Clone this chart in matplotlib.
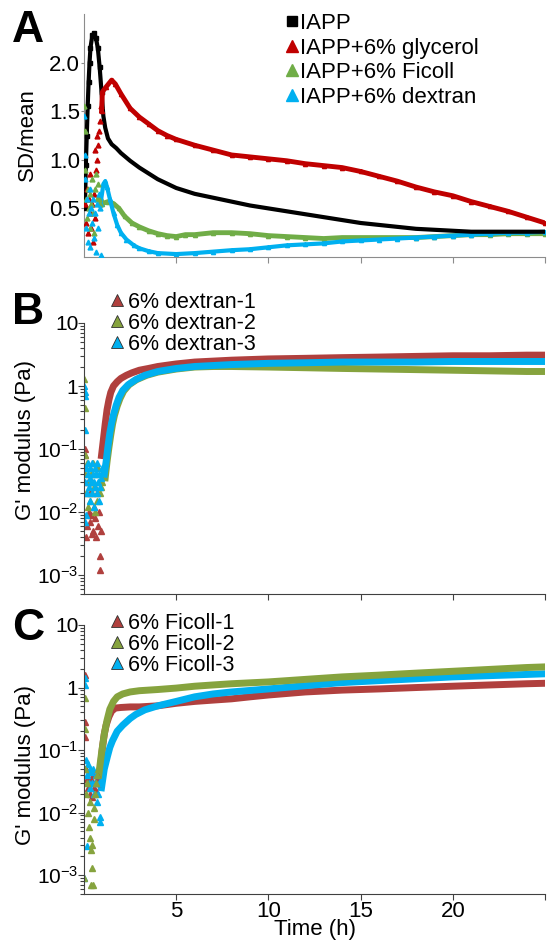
import matplotlib
matplotlib.use("Agg")
import matplotlib.pyplot as plt
from matplotlib.lines import Line2D
import numpy as np

plt.rcParams['font.family'] = ['Liberation Sans', 'DejaVu Sans']
plt.rcParams['mathtext.default'] = 'regular'

# ---------------- panel A : SD/mean ----------------
t_iapp = [0.05, 0.1, 0.15, 0.2, 0.25, 0.3, 0.35, 0.45, 0.55, 0.65, 0.75, 0.85, 0.95, 1.05,
          1.15, 1.3, 1.5, 1.75, 2, 2.5, 3, 3.5, 4, 5, 6, 7, 8, 9, 10, 11, 12, 13, 14, 15,
          16, 17, 18, 19, 20, 21, 22, 23, 24, 25]
v_iapp = [0.5, 0.95, 1.25, 1.55, 1.8, 2.0, 2.15, 2.28, 2.3, 2.25, 2.15, 1.95, 1.7, 1.45,
          1.33, 1.22, 1.16, 1.12, 1.07, 0.99, 0.92, 0.86, 0.8, 0.71, 0.65, 0.61, 0.57, 0.53,
          0.5, 0.47, 0.44, 0.41, 0.38, 0.35, 0.33, 0.31, 0.29, 0.28, 0.27, 0.26, 0.26, 0.26,
          0.26, 0.26]

t_gly = [0.95, 1.0, 1.2, 1.5, 1.7, 2, 2.5, 3, 3.5, 4, 4.5, 5, 6, 7, 8, 9, 10, 11, 12, 13,
         14, 15, 16, 17, 18, 19, 20, 21, 22, 23, 24, 25]
v_gly = [1.5, 1.7, 1.75, 1.82, 1.78, 1.68, 1.53, 1.44, 1.37, 1.3, 1.25, 1.21, 1.15, 1.1,
         1.05, 1.03, 1.01, 0.99, 0.96, 0.94, 0.92, 0.88, 0.83, 0.78, 0.72, 0.67, 0.63, 0.57,
         0.52, 0.47, 0.41, 0.35]

t_fic = [0.9, 1.0, 1.3, 1.6, 1.9, 2.2, 2.6, 3, 3.5, 4, 4.5, 5, 5.5, 6, 7, 8, 9, 10, 11, 12,
         13, 14, 15, 16, 17, 18, 19, 20, 21, 22, 23, 24, 25]
v_fic = [0.6, 0.55, 0.57, 0.55, 0.5, 0.42, 0.35, 0.31, 0.27, 0.24, 0.22, 0.21, 0.23, 0.23,
         0.25, 0.25, 0.24, 0.22, 0.21, 0.2, 0.19, 0.2, 0.2, 0.2, 0.2, 0.2, 0.21, 0.22, 0.23,
         0.23, 0.24, 0.24, 0.24]

t_dex = [0.9, 1.05, 1.15, 1.25, 1.4, 1.6, 1.8, 2, 2.3, 2.7, 3, 3.5, 4, 5, 6, 7, 8, 9, 10,
         11, 12, 13, 14, 15, 16, 17, 18, 19, 20, 21, 22, 23, 24, 25]
v_dex = [0.55, 0.75, 0.78, 0.72, 0.6, 0.45, 0.33, 0.25, 0.18, 0.12, 0.09, 0.06, 0.04, 0.03,
         0.04, 0.055, 0.07, 0.08, 0.1, 0.12, 0.13, 0.14, 0.16, 0.17, 0.18, 0.19, 0.2, 0.21,
         0.22, 0.23, 0.24, 0.25, 0.25, 0.26]

# noisy first hour
t_gly_early = [0.05, 0.1, 0.15, 0.2, 0.25, 0.3, 0.35, 0.4, 0.45, 0.5, 0.55, 0.6, 0.6, 0.65,
               0.7, 0.7, 0.75, 0.8, 0.85, 0.9]
v_gly_early = [0.55, 0.35, 0.7, 0.25, 0.6, 0.45, 0.85, 0.3, 0.55, 0.15, 0.65, 0.4, 1.1, 0.9,
               1.0, 1.25, 1.15, 1.3, 1.4, 1.55]
t_fic_early = [0.02, 0.05, 0.05, 0.1, 0.15, 0.2, 0.25, 0.3, 0.35, 0.4, 0.45, 0.5, 0.55, 0.6,
               0.65, 0.7, 0.75, 0.8, 0.85]
v_fic_early = [1.55, 1.3, 0.9, 0.6, 0.4, 0.7, 0.5, 0.3, 0.65, 0.55, 0.8, 0.45, 0.25, 0.7,
               0.85, 0.6, 0.75, 0.6, 0.55]
t_dex_early = [0.02, 0.05, 0.08, 0.1, 0.15, 0.2, 0.25, 0.3, 0.35, 0.4, 0.45, 0.5, 0.55, 0.6,
               0.65, 0.7, 0.75, 0.8, 0.85, 0.9]
v_dex_early = [1.45, 1.05, 0.8, 0.3, 0.6, 0.15, 0.45, 0.7, 0.1, 0.5, 0.35, 0.6, 0.2, 0.45,
               0.05, 0.55, 0.3, 0.65, 0.5, 0.02]

# ---------------- panel B : dextran G' ----------------
t_d1 = [0.95, 1.05, 1.15, 1.25, 1.35, 1.45, 1.6, 1.8, 2.0, 2.3, 2.6, 3.0, 3.5, 4, 5, 6, 8,
        10, 12, 14, 16, 18, 20, 22, 24, 25]
g_d1 = [0.079, 0.14, 0.25, 0.42, 0.6, 0.79, 1.0, 1.17, 1.32, 1.48, 1.62, 1.78, 1.9, 2.04,
        2.24, 2.4, 2.57, 2.69, 2.75, 2.82, 2.88, 2.95, 3.02, 3.02, 3.09, 3.09]
t_d2 = [1.15, 1.25, 1.35, 1.45, 1.55, 1.65, 1.8, 1.95, 2.15, 2.45, 2.85, 3.4, 4, 5, 6, 7, 8,
        10, 12, 14, 16, 18, 20, 22, 24, 25]
g_d2 = [0.035, 0.063, 0.105, 0.166, 0.25, 0.34, 0.48, 0.63, 0.83, 1.05, 1.26, 1.48, 1.66,
        1.86, 2.0, 2.04, 2.04, 2.0, 1.95, 1.9, 1.86, 1.82, 1.78, 1.74, 1.7, 1.7]
t_d3 = [1.1, 1.2, 1.3, 1.4, 1.5, 1.6, 1.75, 1.9, 2.1, 2.4, 2.8, 3.3, 4, 5, 6, 8, 10, 12, 14,
        16, 18, 20, 22, 24, 25]
g_d3 = [0.04, 0.063, 0.11, 0.18, 0.26, 0.35, 0.5, 0.66, 0.85, 1.05, 1.26, 1.48, 1.7, 1.9,
        2.04, 2.19, 2.29, 2.34, 2.4, 2.4, 2.4, 2.45, 2.45, 2.45, 2.45]

t_d1_early = [0.03, 0.05, 0.08, 0.1, 0.15, 0.2, 0.25, 0.3, 0.35, 0.4, 0.45, 0.45, 0.5, 0.55,
              0.6, 0.6, 0.65, 0.7, 0.75, 0.8, 0.85, 0.88, 0.9]
g_d1_early = [0.1, 0.08, 0.05, 0.004, 0.006, 0.03, 0.01, 0.02, 0.007, 0.009, 0.03, 0.0045,
              0.005, 0.012, 0.008, 0.025, 0.004, 0.02, 0.006, 0.01, 0.002, 0.0012, 0.005]
t_d2_early = [0.02, 0.04, 0.05, 0.08, 0.1, 0.15, 0.2, 0.25, 0.3, 0.35, 0.4, 0.45, 0.5, 0.55,
              0.6, 0.65, 0.7, 0.75, 0.8, 0.85, 0.9, 1.0]
g_d2_early = [1.3, 0.45, 0.08, 0.04, 0.02, 0.06, 0.012, 0.03, 0.05, 0.015, 0.04, 0.02, 0.06,
              0.025, 0.01, 0.04, 0.015, 0.05, 0.03, 0.02, 0.025, 0.03]
t_d3_early = [0.02, 0.03, 0.05, 0.05, 0.06, 0.08, 0.1, 0.12, 0.15, 0.2, 0.22, 0.25, 0.3, 0.32,
              0.35, 0.4, 0.42, 0.45, 0.5, 0.52, 0.55, 0.6, 0.62, 0.65, 0.7, 0.72, 0.75, 0.8,
              0.82, 0.85, 0.9, 0.95]
g_d3_early = [1.0, 0.8, 0.7, 0.007, 0.2, 0.03, 0.05, 0.009, 0.02, 0.04, 0.06, 0.025, 0.035,
              0.015, 0.05, 0.03, 0.06, 0.02, 0.04, 0.012, 0.03, 0.05, 0.025, 0.04, 0.02, 0.06,
              0.03, 0.04, 0.015, 0.025, 0.035, 0.05]

# ---------------- panel C : Ficoll G' ----------------
t_f1 = [0.8, 0.9, 1.0, 1.1, 1.2, 1.35, 1.5, 1.7, 2, 2.5, 3, 4, 5, 6, 7, 8, 9, 10, 12, 14, 16,
        18, 20, 22, 24, 25]
g_f1 = [0.032, 0.056, 0.11, 0.18, 0.25, 0.34, 0.42, 0.47, 0.48, 0.49, 0.49, 0.51, 0.56, 0.6,
        0.63, 0.66, 0.71, 0.76, 0.85, 0.91, 0.95, 1.0, 1.05, 1.1, 1.15, 1.17]
t_f2 = [0.8, 0.95, 1.1, 1.25, 1.4, 1.6, 1.8, 2.1, 2.5, 3, 4, 5, 6, 7, 8, 10, 12, 14, 16, 18,
        20, 22, 24, 25]
g_f2 = [0.04, 0.089, 0.18, 0.3, 0.45, 0.6, 0.71, 0.79, 0.85, 0.89, 0.93, 0.98, 1.05, 1.1,
        1.15, 1.23, 1.35, 1.48, 1.58, 1.7, 1.82, 1.95, 2.09, 2.14]
t_f3 = [0.95, 1.1, 1.27, 1.4, 1.54, 1.8, 2.1, 2.5, 2.8, 3.3, 4, 5, 6, 7, 8, 10, 12, 14, 16,
        18, 20, 22, 24, 25]
g_f3 = [0.025, 0.05, 0.079, 0.11, 0.14, 0.2, 0.25, 0.32, 0.37, 0.44, 0.51, 0.6, 0.71, 0.79,
        0.85, 0.95, 1.07, 1.2, 1.29, 1.38, 1.48, 1.55, 1.62, 1.66]

t_f1_early = [0.03, 0.04, 0.05, 0.1, 0.15, 0.2, 0.25, 0.3, 0.35, 0.4, 0.45, 0.5, 0.55, 0.6,
              0.65, 0.7, 0.75]
g_f1_early = [1.6, 0.28, 0.16, 0.05, 0.035, 0.025, 0.045, 0.03, 0.02, 0.035, 0.018, 0.04,
              0.025, 0.03, 0.022, 0.04, 0.03]
t_f2_early = [0.03, 0.04, 0.08, 0.1, 0.15, 0.2, 0.25, 0.3, 0.35, 0.4, 0.4, 0.45, 0.5, 0.55,
              0.6, 0.65, 0.7, 0.75, 0.45, 0.55, 0.02]
g_f2_early = [0.68, 0.22, 0.05, 0.02, 0.03, 0.01, 0.006, 0.015, 0.004, 0.0025, 0.0007, 0.0013,
              0.0007, 0.008, 0.02, 0.03, 0.04, 0.05, 0.003, 0.012, 0.0009]
t_f3_early = [0.03, 0.04, 0.1, 0.15, 0.2, 0.25, 0.3, 0.35, 0.4, 0.45, 0.5, 0.55, 0.6, 0.65,
              0.7, 0.75, 0.8, 0.85, 0.85, 0.15, 0.02]
g_f3_early = [1.4, 1.1, 0.07, 0.04, 0.06, 0.03, 0.05, 0.025, 0.045, 0.03, 0.05, 0.02, 0.03,
              0.04, 0.015, 0.02, 0.03, 0.007, 0.0085, 0.0029, 0.0009]

# colours
black = 'black'
red_a, green_a, blue_a = '#C00000', '#70AD47', '#00B0F0'
red_b, green_b, blue_b = '#B0403E', '#86A33E', '#00B0F0'

W, H = 549, 944
fig = plt.figure(figsize=(W / 100, H / 100), dpi=100)


def box(top, bottom, left=84, right=545):
    return [left / W, 1 - bottom / H, (right - left) / W, (bottom - top) / H]


axA = fig.add_axes(box(14, 257))
axB = fig.add_axes(box(323, 594))
axC = fig.add_axes(box(625, 894))

# panel A
axA.plot(t_iapp, v_iapp, '-', color=black, lw=3, zorder=3)
axA.plot(t_iapp[:13], v_iapp[:13], 's', color=black, ms=2.5, zorder=3)
axA.plot(t_gly, v_gly, '-^', color=red_a, lw=3.5, ms=3, zorder=4)
axA.plot(t_fic, v_fic, '-^', color=green_a, lw=3.5, ms=3, zorder=2)
axA.plot(t_dex, v_dex, '-^', color=blue_a, lw=3, ms=3, zorder=2)
axA.plot(t_gly_early, v_gly_early, '^', color=red_a, ms=3.5, ls='none', zorder=5)
axA.plot(t_fic_early, v_fic_early, '^', color=green_a, ms=3.5, ls='none', zorder=5)
axA.plot(t_dex_early, v_dex_early, '^', color=blue_a, ms=3.5, ls='none', zorder=5)
axA.set_xlim(0, 25)
axA.set_ylim(0, 2.5)
axA.set_yticks([0.5, 1.0, 1.5, 2.0])
axA.set_yticklabels(['0.5', '1.0', '1.5', '2.0'])
axA.set_xticks([5, 10, 15, 20, 25])
axA.set_xticklabels([])

handlesA = [Line2D([], [], marker='s', color=black, ls='none', ms=7),
            Line2D([], [], marker='^', color=red_a, ls='none', ms=8),
            Line2D([], [], marker='^', color=green_a, ls='none', ms=8),
            Line2D([], [], marker='^', color=blue_a, ls='none', ms=8)]
axA.legend(handlesA, ['IAPP', 'IAPP+6% glycerol', 'IAPP+6% Ficoll', 'IAPP+6% dextran'],
           loc='upper left', bbox_to_anchor=(286 / W, 1 - 13 / H),
           bbox_transform=fig.transFigure, frameon=False, fontsize=16,
           handlelength=0.5, handletextpad=0.15, borderpad=0, borderaxespad=0,
           labelspacing=0.16)

# panel B
for tt, gg, c in [(t_d2, g_d2, green_b), (t_d1, g_d1, red_b), (t_d3, g_d3, blue_b)]:
    axB.plot(tt, gg, '-', color=c, lw=5)
for tt, gg, c in [(t_d1_early, g_d1_early, red_b), (t_d2_early, g_d2_early, green_b),
                  (t_d3_early, g_d3_early, blue_b)]:
    axB.plot(tt, gg, '^', color=c, ms=4.5, ls='none')

# panel C
for tt, gg, c in [(t_f1, g_f1, red_b), (t_f3, g_f3, blue_b), (t_f2, g_f2, green_b)]:
    axC.plot(tt, gg, '-', color=c, lw=5)
for tt, gg, c in [(t_f1_early, g_f1_early, red_b), (t_f3_early, g_f3_early, blue_b),
                  (t_f2_early, g_f2_early, green_b)]:
    axC.plot(tt, gg, '^', color=c, ms=4.5, ls='none')

log_labels = ['10$^{-3}$', '10$^{-2}$', '10$^{-1}$', '1', '10']
for ax in (axB, axC):
    ax.set_yscale('log')
    ax.set_xlim(0, 25)
    ax.set_ylim(5e-4, 10)
    ax.set_yticks([1e-3, 1e-2, 1e-1, 1, 10])
    ax.set_yticklabels(log_labels)
    ax.set_xticks([5, 10, 15, 20, 25])
    ax.tick_params(axis='y', which='minor', length=3, width=0.8, color='#404040')

axB.set_xticklabels([])
axC.set_xticklabels(['5', '10', '15', '20', ''])
axC.set_xlabel('Time (h)', fontsize=16, labelpad=-2)

labelsB = ['6% dextran-1', '6% dextran-2', '6% dextran-3']
labelsC = ['6% Ficoll-1', '6% Ficoll-2', '6% Ficoll-3']
for ax, labs, y0 in [(axB, labelsB, 292), (axC, labelsC, 613)]:
    hh = [Line2D([], [], marker='^', color=c, mec='#303030', mew=0.6, ls='none', ms=9)
          for c in (red_b, green_b, blue_b)]
    ax.legend(hh, labs, loc='upper left', bbox_to_anchor=(112 / W, 1 - y0 / H),
              bbox_transform=fig.transFigure, frameon=False, fontsize=15.5,
              handlelength=0.5, handletextpad=0.25, borderpad=0, borderaxespad=0,
              labelspacing=0.0)

for ax, sc in [(axA, '#8c8c8c'), (axB, '#404040'), (axC, '#404040')]:
    ax.spines['top'].set_visible(False)
    ax.spines['right'].set_visible(False)
    ax.spines['left'].set_color(sc)
    ax.spines['bottom'].set_color(sc)
    ax.tick_params(axis='both', which='major', labelsize=16, color=sc, pad=1)
    ax.tick_params(axis='y', which='major', length=4)
    ax.tick_params(axis='x', which='major', length=4)

for ax in (axB, axC):
    ax.tick_params(axis='y', which='major', labelsize=15, pad=0)

axA.tick_params(axis='y', length=2)

fig.text(27 / W, 1 - 135 / H, 'SD/mean', rotation=90, fontsize=16, ha='center', va='center')
fig.text(26 / W, 1 - 440 / H, "G' modulus (Pa)", rotation=90, fontsize=16, ha='center',
         va='center')
fig.text(26 / W, 1 - 765 / H, "G' modulus (Pa)", rotation=90, fontsize=16, ha='center',
         va='center')

for lab, y in [('A', 30), ('B', 313), ('C', 628)]:
    fig.text(28 / W, 1 - y / H, lab, fontsize=32, fontweight='bold', ha='center', va='center')

fig.savefig('out.png', dpi=100)
